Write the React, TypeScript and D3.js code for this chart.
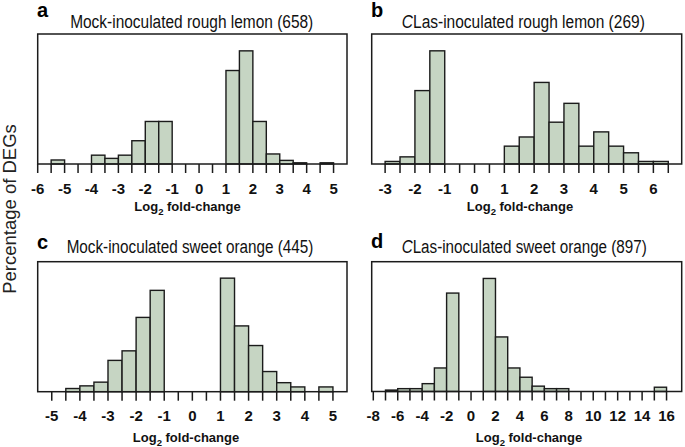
import React, { useLayoutEffect, useRef, useState } from "react";
import * as d3 from "d3";

// ---- data (percentage of DEGs per log2 fold-change bin; bin start values) ----
const aBins = [-5.5, -4, -3.5, -3, -2.5, -2, -1.5, 1, 1.5, 2, 2.5, 3, 3.5, 4.5];
const aValues = [1.0, 2.2, 1.4, 2.2, 5.8, 10.6, 10.6, 23.3, 28.2, 10.6, 2.5, 0.9, 0.3, 0.3];
const aLabels = [-6, -5, -4, -3, -2, -1, 0, 1, 2, 3, 4, 5];

const bBins = [-3, -2.5, -2, -1.5, 1, 1.5, 2, 2.5, 3, 3.5, 4, 4.5, 5, 5.5, 6];
const bValues = [0.5, 1.4, 14.4, 22.2, 3.5, 5.3, 16.0, 8.2, 11.9, 3.5, 6.3, 3.5, 2.2, 0.5, 0.5];
const bLabels = [-3, -2, -1, 0, 1, 2, 3, 4, 5, 6];

const cBins = [-4.5, -4, -3.5, -3, -2.5, -2, -1.5, 1, 1.5, 2, 2.5, 3, 3.5, 4.5];
const cValues = [0.6, 1.1, 1.8, 5.9, 7.7, 14.0, 19.1, 21.4, 12.4, 8.7, 3.8, 1.7, 0.9, 0.9];
const cLabels = [-5, -4, -3, -2, -1, 0, 1, 2, 3, 4, 5];

const dBins = [-7, -6, -5, -4, -3, -2, 1, 2, 3, 4, 5, 6, 7, 15];
const dValues = [0.4, 0.8, 0.8, 2.2, 6.6, 27.6, 31.7, 15.3, 6.6, 4.0, 1.5, 0.8, 0.8, 1.2];
const dLabels = [-8, -6, -4, -2, 0, 2, 4, 6, 8, 10, 12, 14, 16];

const titles = [
  { letter: "a", italic: "", rest: "Mock-inoculated rough lemon (658)" },
  { letter: "b", italic: "C", rest: "Las-inoculated rough lemon (269)" },
  { letter: "c", italic: "", rest: "Mock-inoculated sweet orange (445)" },
  { letter: "d", italic: "C", rest: "Las-inoculated sweet orange (897)" },
];

const FONT = "'Liberation Sans', Arial, Helvetica, sans-serif";
const FILL = "#c6d5c3";
const INK = "#1b1b1b";

function Title({ cx, y, len, t }: { cx: number; y: number; len: number; t: { italic: string; rest: string } }) {
  const ref = useRef<SVGTextElement>(null);
  const [sx, setSx] = useState(0.86);
  useLayoutEffect(() => {
    if (ref.current) {
      const w = ref.current.getBBox().width;
      if (w > 0) setSx(len / w);
    }
  }, [len]);
  return (
    <g transform={`translate(${cx},${y}) scale(${sx},1)`}>
      <text ref={ref} x={0} y={0} textAnchor="middle" fontFamily={FONT} fontSize={19} fill="#111">
        {t.italic ? <tspan fontStyle="italic">{t.italic}</tspan> : null}
        <tspan>{t.rest}</tspan>
      </text>
    </g>
  );
}

type PanelProps = {
  x0: number; x1: number; y0: number; y1: number;
  domain: [number, number]; ymax: number;
  bins: number[]; values: number[]; binWidth: number;
  tickStart: number; tickEnd: number; tickStep: number;
  labels: number[];
  title: { letter: string; italic: string; rest: string };
  titleCx: number; titleLen: number; titleY: number;
  letterX: number; letterY: number;
  labelY: number; axisTitleCx: number; axisTitleY: number;
};

function Panel(p: PanelProps) {
  const x = d3.scaleLinear().domain(p.domain).range([p.x0, p.x1]);
  const y = d3.scaleLinear().domain([0, p.ymax]).range([p.y1, p.y0]);
  const ticks = d3.range(p.tickStart, p.tickEnd + 1e-9, p.tickStep);
  return (
    <g>
      {p.bins.map((b, i) => (
        <rect
          key={i}
          x={x(b)}
          y={y(p.values[i])}
          width={x(b + p.binWidth) - x(b)}
          height={y(0) - y(p.values[i])}
          fill={FILL}
          stroke={INK}
          strokeWidth={1.4}
        />
      ))}
      <rect x={p.x0} y={p.y0} width={p.x1 - p.x0} height={p.y1 - p.y0} fill="none" stroke={INK} strokeWidth={1.5} />
      {ticks.map((t, i) => (
        <line key={i} x1={x(t)} x2={x(t)} y1={p.y1} y2={p.y1 + 9} stroke={INK} strokeWidth={1.5} />
      ))}
      {p.labels.map((l, i) => (
        <text key={i} x={x(l)} y={p.labelY} textAnchor="middle" fontFamily={FONT} fontWeight="bold" fontSize={15} fill="#111">
          {String(l)}
        </text>
      ))}
      <text x={p.axisTitleCx} y={p.axisTitleY} textAnchor="middle" fontFamily={FONT} fontWeight="bold" fontSize={13} fill="#111">
        Log<tspan fontSize={9.5} dy={4}>2</tspan><tspan dy={-4}> fold-change</tspan>
      </text>
      <text x={p.letterX} y={p.letterY} fontFamily={FONT} fontWeight="bold" fontSize={20} fill="#000">
        {p.title.letter}
      </text>
      <Title cx={p.titleCx} y={p.titleY} len={p.titleLen} t={p.title} />
    </g>
  );
}

export default function App() {
  return (
    <svg
      width={685}
      height={447}
      style={{ position: "absolute", left: 0, top: 0, background: "#fff" }}
    >
      <rect x={0} y={0} width={685} height={447} fill="#fff" />
      <Panel
        x0={37.7} x1={347} y0={34} y1={164} domain={[-6, 5.5]} ymax={32.4}
        bins={aBins} values={aValues} binWidth={0.5}
        tickStart={-6} tickEnd={5} tickStep={0.5} labels={aLabels}
        title={titles[0]} titleCx={191.7} titleLen={243} titleY={28}
        letterX={37} letterY={17} labelY={193.5} axisTitleCx={187.5} axisTitleY={211}
      />
      <Panel
        x0={371.7} x1={681.7} y0={34} y1={164} domain={[-3.45, 6.95]} ymax={25.5}
        bins={bBins} values={bValues} binWidth={0.5}
        tickStart={-3} tickEnd={6.5} tickStep={0.5} labels={bLabels}
        title={titles[1]} titleCx={523.3} titleLen={243} titleY={28}
        letterX={371} letterY={17} labelY={193.5} axisTitleCx={520} axisTitleY={211}
      />
      <Panel
        x0={37.7} x1={347} y0={261.7} y1={391.7} domain={[-5.5, 5.5]} ymax={24.5}
        bins={cBins} values={cValues} binWidth={0.5}
        tickStart={-5} tickEnd={5} tickStep={0.5} labels={cLabels}
        title={titles[2]} titleCx={190} titleLen={246.6} titleY={253}
        letterX={37} letterY={249} labelY={420.5} axisTitleCx={186} axisTitleY={442}
      />
      <Panel
        x0={371.7} x1={681.7} y0={261.7} y1={391.5} domain={[-8.13, 17.24]} ymax={36.4}
        bins={dBins} values={dValues} binWidth={1}
        tickStart={-8} tickEnd={16} tickStep={1} labels={dLabels}
        title={titles[3]} titleCx={524.2} titleLen={245} titleY={253}
        letterX={371} letterY={248} labelY={420.5} axisTitleCx={529} axisTitleY={442}
      />
      <text
        transform="translate(16,209) rotate(-90)"
        textAnchor="middle"
        fontFamily={FONT}
        fontSize={18.5}
        fill="#222"
      >
        Percentage of DEGs
      </text>
    </svg>
  );
}
